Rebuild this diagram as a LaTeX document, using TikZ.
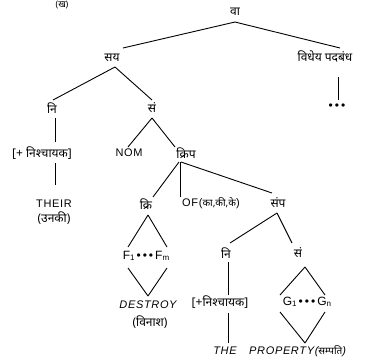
\documentclass[tikz,border=0pt]{standalone}
\usepackage{fontspec}
\usetikzlibrary{calc}
\setmainfont{Liberation Sans}
\newfontfamily\dev[Script=Devanagari]{Noto Sans}
\newfontfamily\lat[LetterSpace=6]{Liberation Sans}
\newcommand{\subidx}[1]{\raisebox{-1.5pt}{\fontsize{8}{9}\selectfont #1}}
\newcommand{\dotrun}{\,\textbullet\,\textbullet\,\textbullet\,}
\begin{document}
\begin{tikzpicture}[x=1pt,y=-1pt,
  dv/.style={font=\dev\fontsize{12}{13}\selectfont, inner sep=0pt},
  lt/.style={font=\lat\fontsize{11}{12}\selectfont, inner sep=0pt},
  li/.style={font=\lat\itshape\fontsize{11}{12}\selectfont, inner sep=0pt},
  fg/.style={font=\fontsize{12}{13}\selectfont, inner sep=0pt},
  edge/.style={line width=0.9pt}]
\useasboundingbox (0,0) rectangle (376,357);
% heading label
\node[dv,font=\dev\fontsize{9}{10}\selectfont] (lbl) at (62,5) {(ख)};
% top levels
\node[dv] (va) at (235,12) {वा};
\node[dv] (saya) at (112,58) {सय};
\node[dv] (vid) at (325,57) {विधेय पदबंध};
\node[fg] (dots) at (337,107) {\textbullet\,\textbullet\,\textbullet};
\node[dv] (niA) at (52,108) {नि};
\node[dv] (samA) at (152,108) {सं};
% left determiner branch
\node[dv] (detA) at (42,153) {[+ निश्चायक]};
\node[lt] (their) at (54,204) {THEIR};
\node[dv] (unaki) at (54,218) {(उनकी)};
% noun branch
\node[lt] (nom) at (129,153) {NOM};
\node[dv] (krip) at (186,153) {क्रिप};
\node[dv] (kri) at (146,204) {क्रि};
\node[lt] (of) at (211,203) {OF({\dev\fontsize{10}{11}\selectfont का,की,के})};
\node[dv] (samp) at (278,203) {संप};
\node[fg] (feat) at (146,256) {F\subidx{1}\dotrun F\subidx{m}};
\node[li] (destroy) at (148,305) {DESTROY};
\node[dv] (vinash) at (150,322) {(विनाश)};
% object noun phrase
\node[dv] (niB) at (226,253) {नि};
\node[dv] (samB) at (298,253) {सं};
\node[dv] (detB) at (220,302) {[+निश्चायक]};
\node[fg] (gfeat) at (307,302) {G\subidx{1}\dotrun G\subidx{n}};
\node[li] (the) at (225,351) {THE};
\node[li,anchor=west] (prop) at (249,351) {PROPERTY({\upshape\dev\fontsize{10}{11}\selectfont सम्पति})};

\begin{scope}[edge]
\draw ($(va)+(0,10)$) -- ($(saya)+(11,-10)$);
\draw ($(va)+(0,10)$) -- ($(vid)+(15,-9)$);
\draw ($(vid)+(13,20)$) -- ($(dots)+(1,-7)$);
\draw ($(saya)+(3,9)$) -- ($(niA)+(1,-8)$);
\draw ($(saya)+(3,9)$) -- ($(samA)+(0,-8)$);
\draw ($(niA)+(3,10)$) -- ($(detA)+(13,-11)$);
\draw ($(detA)+(13,10)$) -- ($(their)+(1,-19)$);
\draw ($(samA)+(0,10)$) -- ($(nom)+(-1,-6)$);
\draw ($(samA)+(0,10)$) -- ($(krip)+(-11,-6)$);
\draw ($(krip)+(-7,9)$) -- ($(kri)+(7,-7)$);
\draw ($(krip)+(-6,9)$) -- ($(of)+(-31,-6)$);
\draw ($(krip)+(-5,9)$) -- ($(samp)+(-6,-10)$);
\draw ($(kri)+(2,11)$) -- ($(feat)+(-18,-9)$);
\draw ($(kri)+(2,11)$) -- ($(feat)+(21,-9)$);
\draw ($(feat)+(-18,12)$) -- ($(destroy)+(0,-9)$);
\draw ($(feat)+(21,12)$) -- ($(destroy)+(0,-9)$);
\draw ($(samp)+(-1,10)$) -- ($(niB)+(4,-10)$);
\draw ($(samp)+(-1,10)$) -- ($(samB)+(-6,-10)$);
\draw ($(niB)+(2,9)$) -- ($(detB)+(8,-7)$);
\draw ($(detB)+(8,11)$) -- ($(the)+(3,-8)$);
\draw ($(samB)+(7,14)$) -- ($(gfeat)+(-27,-7)$);
\draw ($(samB)+(7,14)$) -- ($(gfeat)+(18,-7)$);
\draw ($(gfeat)+(-27,10)$) -- ($(prop.west)+(56,-8)$);
\draw ($(gfeat)+(18,10)$) -- ($(prop.west)+(56,-8)$);
\end{scope}
\end{tikzpicture}
\end{document}
